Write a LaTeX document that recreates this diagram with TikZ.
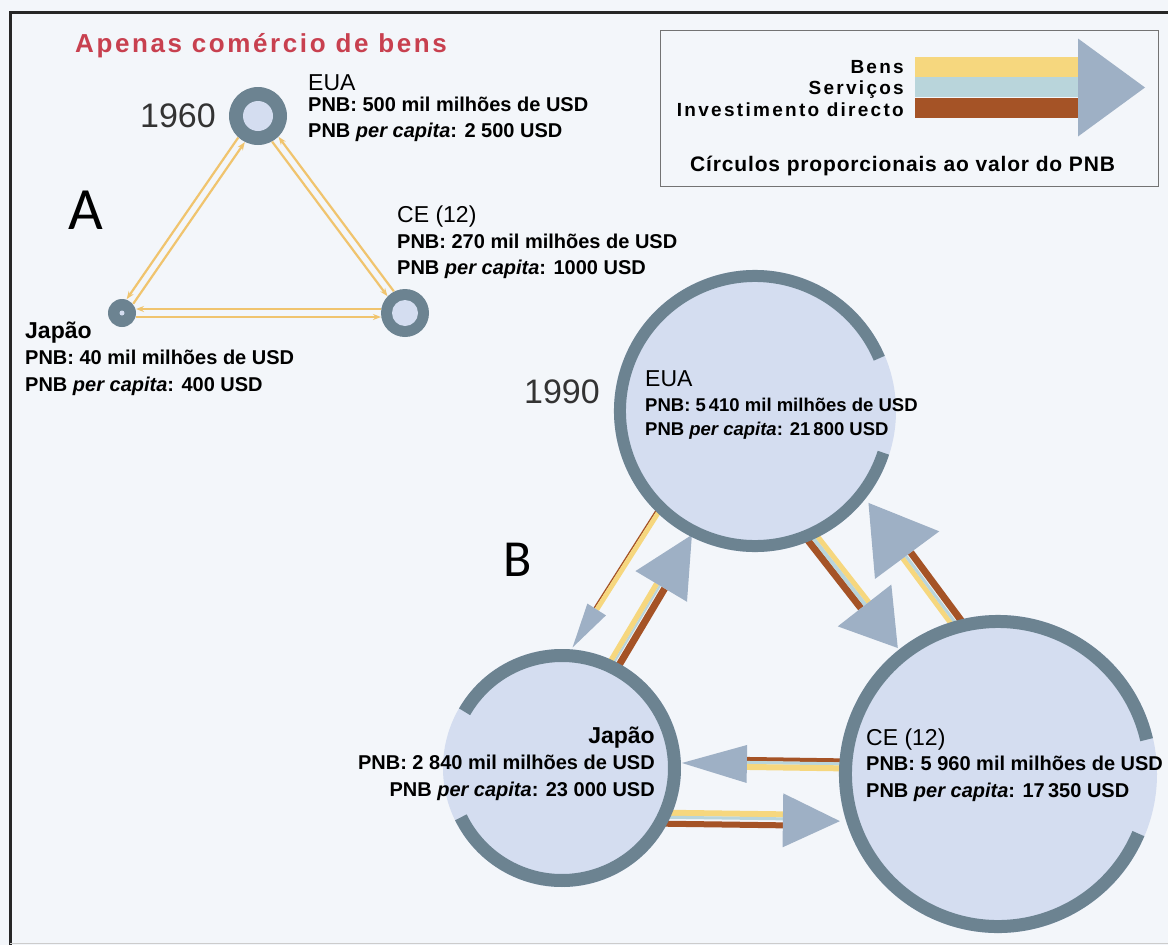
\documentclass[tikz,border=0pt]{standalone}
\usepackage{fontspec}
\setmainfont{Liberation Sans}
\newfontfamily\calibfont{Carlito}
\newfontfamily\ttlfont[LetterSpace=10]{Liberation Sans}
\newfontfamily\lgdfont[LetterSpace=12]{Liberation Sans}
\newfontfamily\crcfont[LetterSpace=4]{Liberation Sans}
\usetikzlibrary{calc,arrows.meta}
\definecolor{bgc}{HTML}{F3F6FA}
\definecolor{ringc}{HTML}{6C8391}
\definecolor{fillc}{HTML}{D4DDF0}
\definecolor{headc}{HTML}{9EB0C5}
\definecolor{yelc}{HTML}{F6D77E}
\definecolor{bluc}{HTML}{B9D5DB}
\definecolor{brnc}{HTML}{A55326}
\definecolor{titc}{HTML}{C8404F}
\definecolor{thinc}{HTML}{F0C46E}
\definecolor{yearc}{HTML}{333333}
\newcommand\flowarrow[5]{%
  \coordinate (fa-h) at ($(#2)!#3!(#1)$);
  \foreach \cc/\oa/\ob in {#5} {
    \fill[\cc] ($(#1)!\oa!90:(#2)$) -- ($(#1)!\ob!90:(#2)$) -- ($(fa-h)!\ob!90:(#2)$) -- ($(fa-h)!\oa!90:(#2)$) -- cycle;
  }
  \fill[headc] ($(fa-h)!#4!90:(#2)$) -- (#2) -- ($(fa-h)!#4!-90:(#2)$) -- cycle;
}
\newcommand\thinpair[4]{%
  \draw[thinflow, shorten <=#3, shorten >=#4] ($(#1)!-4pt!90:(#2)$) -- ($(#2)!-4pt!-90:(#1)$);
  \draw[thinflow, shorten <=#4, shorten >=#3] ($(#2)!-4pt!90:(#1)$) -- ($(#1)!-4pt!-90:(#2)$);
}
\begin{document}
\begin{tikzpicture}[x=1pt,y=-1pt,
  lbl/.style={font=\bfseries\fontsize{20}{24}\selectfont, anchor=base west, inner sep=0},
  hd/.style={font=\fontsize{23}{27}\selectfont, anchor=base west, inner sep=0},
  year/.style={font=\fontsize{34}{40}\selectfont, text=yearc, inner sep=0},
  big/.style={font=\calibfont\fontsize{60}{70}\selectfont, inner sep=0},
  thinflow/.style={draw=thinc, line width=2.2pt, -{Stealth[length=8pt,width=6pt]}},
  ring/.style={draw=ringc},
  bubble/.style={circle, fill=fillc, inner sep=0},
  smallc/.style={circle, fill=ringc, inner sep=0},
  lgd/.style={anchor=base east, inner sep=0, font=\lgdfont\bfseries\fontsize{19}{22}\selectfont}]
\useasboundingbox (0,0) rectangle (1168,945);
\fill[bgc] (0,0) rectangle (1168,945);
% frame
\draw[line width=3pt, black!85] (10,945) -- (10,12) -- (1168,12);
\draw[line width=1pt, black!20] (10,943) -- (1168,943);
% title
\node[anchor=base west, inner sep=0, text=titc, font=\ttlfont\bfseries\fontsize{26}{30}\selectfont] (title) at (75,52) {Apenas comércio de bens};
% legend
\node[draw=black!55, line width=0.8pt, minimum width=498pt, minimum height=156pt, anchor=north west, inner sep=0] (legbox) at (660,30) {};
\node[lgd] (lgB) at (904,73) {Bens};
\node[lgd] (lgS) at (904,94) {Serviços};
\node[lgd] (lgI) at (904,116) {Investimento directo};
\coordinate (legS) at (915,87.5);
\coordinate (legT) at (1145,87.5);
\flowarrow{legS}{legT}{67pt}{49pt}{yelc/10.5pt/30.5pt, bluc/-9.5pt/10.5pt, brnc/-30.5pt/-10.5pt}
\node[anchor=base west, inner sep=0, font=\crcfont\bfseries\fontsize{21}{24}\selectfont] (lgC) at (690,171) {Círculos proporcionais ao valor do PNB};
% ===== A : 1960 =====
\node[smallc, minimum size=58pt] (euaA) at (258,116) {};
\fill[fillc] (euaA.center) circle (15);
\node[smallc, minimum size=48pt] (ceA) at (405,313) {};
\fill[fillc] (ceA.center) circle (13);
\node[smallc, minimum size=28pt] (japA) at (122,313) {};
\fill[fillc] (japA.center) circle (2.5);
\thinpair{euaA}{japA}{29pt}{14pt}
\thinpair{euaA}{ceA}{29pt}{24pt}
\thinpair{ceA}{japA}{24pt}{14pt}
\node[year] (y1960) at (178,116) {1960};
\node[big] (letA) at (86,210) {A};
\node[hd] (tEuaA) at (308,90) {EUA};
\node[lbl] (tEuaA1) at (308,111) {PNB: 500 mil milhões de USD};
\node[lbl] (tEuaA2) at (308,137) {PNB \textit{per capita}: 2 500 USD};
\node[hd] (tCeA) at (397,222) {CE (12)};
\node[lbl] (tCeA1) at (397,248) {PNB: 270 mil milhões de USD};
\node[lbl] (tCeA2) at (397,274) {PNB \textit{per capita}: 1000 USD};
\node[hd, font=\bfseries\fontsize{23}{27}\selectfont] (tJapA) at (25,338) {Japão};
\node[lbl] (tJapA1) at (25,364) {PNB: 40 mil milhões de USD};
\node[lbl] (tJapA2) at (25,391) {PNB \textit{per capita}: 400 USD};
% ===== B : 1990 =====
\node[bubble, minimum size=282pt] (euaB) at (755,411) {};
\node[bubble, minimum size=238pt] (japB) at (562,768) {};
\node[bubble, minimum size=318pt] (ceB) at (998,774) {};
% flow arrows
\coordinate (f1s) at ($(euaB)+(134:136)$);
\coordinate (f1t) at ($(japB)+(-85:121)$);
\coordinate (f2s) at ($(japB)+(-63:116)$);
\coordinate (f2t) at ($(euaB)+(117:139)$);
\coordinate (f3s) at ($(euaB)+(66:138)$);
\coordinate (f3t) at ($(ceB)+(231.5:161)$);
\coordinate (f4s) at ($(ceB)+(255:156)$);
\coordinate (f4t) at ($(euaB)+(39:146)$);
\coordinate (f5s) at ($(ceB)+(183.2:154)$);
\coordinate (f5t) at ($(japB)+(-2.4:120)$);
\coordinate (f6s) at ($(japB)+(26.4:114)$);
\coordinate (f6t) at ($(ceB)+(163.4:165)$);
\flowarrow{f1s}{f1t}{45pt}{11pt}{brnc/-3.6pt/-2.2pt, yelc/-2.2pt/2.6pt}
\flowarrow{f2s}{f2t}{60pt}{30pt}{yelc/2.5pt/8pt, bluc/0.5pt/2.5pt, brnc/-7.5pt/-0.5pt}
\flowarrow{f3s}{f3t}{54pt}{34pt}{brnc/-8pt/-1pt, bluc/-1pt/3pt, yelc/3pt/8pt}
\flowarrow{f4s}{f4t}{65pt}{40pt}{yelc/3pt/8pt, bluc/0pt/3pt, brnc/-8pt/-1pt}
\flowarrow{f5s}{f5t}{65pt}{19pt}{brnc/-7pt/-3pt, bluc/-3pt/0pt, yelc/0pt/6pt}
\flowarrow{f6s}{f6t}{57pt}{27pt}{yelc/3pt/9pt, bluc/0pt/3pt, brnc/-8pt/-2pt}
% rings with gaps
\draw[ring, line width=12pt] ($(euaB)+(18:135)$) arc[start angle=18, end angle=337, radius=135];
\draw[ring, line width=13pt] ($(japB)+(210:112.5)$) arc[start angle=210, end angle=514, radius=112.5];
\draw[ring, line width=13pt] ($(ceB)+(23:152.5)$) arc[start angle=23, end angle=347, radius=152.5];
\node[year] (y1990) at (562,392) {1990};
\node[big, font=\calibfont\fontsize{52}{60}\selectfont] (letB) at (518,560) {B};
\node[hd] (tEuaB) at (645,386) {EUA};
\node[lbl, font=\bfseries\fontsize{18.5}{22}\selectfont] (tEuaB1) at (645,411) {PNB: 5\,410 mil milhões de USD};
\node[lbl, font=\bfseries\fontsize{18.5}{22}\selectfont] (tEuaB2) at (645,435) {PNB \textit{per capita}: 21\,800 USD};
\node[hd, anchor=base east, font=\bfseries\fontsize{23}{27}\selectfont] (tJapB) at (655,743) {Japão};
\node[lbl, anchor=base east] (tJapB1) at (655,769) {PNB: 2 840 mil milhões de USD};
\node[lbl, anchor=base east] (tJapB2) at (655,796) {PNB \textit{per capita}: 23 000 USD};
\node[hd] (tCeB) at (866,745) {CE (12)};
\node[lbl] (tCeB1) at (866,770) {PNB: 5 960 mil milhões de USD};
\node[lbl] (tCeB2) at (866,797) {PNB \textit{per capita}: 17\,350 USD};
\end{tikzpicture}
\end{document}
